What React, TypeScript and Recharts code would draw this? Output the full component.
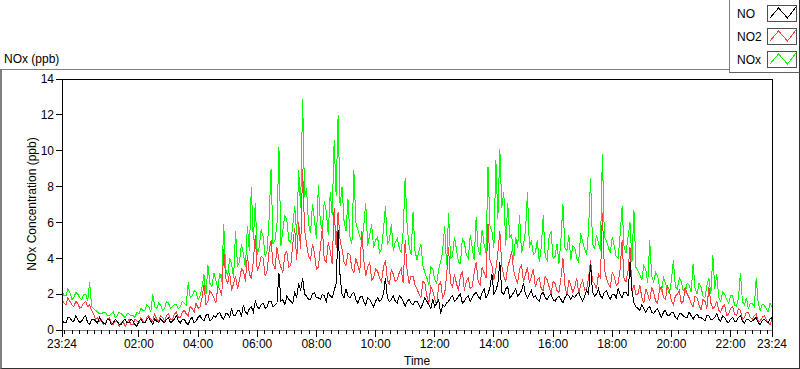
import { LineChart, Line, XAxis, YAxis, ReferenceLine } from "recharts"

// one sample every 4 minutes, first sample is 23:24
const STEP_MIN = 4
const START_MIN = 23 * 60 + 24

const no = [
  0.6, 0.4, 0.4, 0.7, 0.7, 0.5, 0.5, 0.8, 0.6, 0.4, 0.5, 0.7, 0.8, 0.4, 0.3, 0.6, 0.6, 0.5, 0.4, 0.7,
  0.5, 0.4, 0.3, 0.6, 0.6, 0.3, 0.4, 0.6, 0.5, 0.3, 0.3, 0.5, 0.6, 0.4, 0.4, 0.6, 0.5, 0.3, 0.2, 0.5,
  0.6, 0.4, 0.4, 0.6, 0.7, 0.5, 0.3, 0.6, 0.5, 0.4, 0.6, 0.5, 0.4, 0.6, 0.7, 0.4, 0.5, 0.6, 0.8, 0.5,
  0.4, 0.6, 0.6, 0.4, 0.3, 0.6, 0.7, 0.4, 0.5, 0.7, 0.8, 0.6, 0.5, 0.8, 0.9, 0.5, 0.6, 0.8, 0.7, 0.9,
  1.0, 0.7, 0.6, 0.9, 0.9, 0.7, 1.2, 0.8, 0.8, 1.1, 1.1, 0.8, 1.4, 1.0, 0.9, 1.2, 1.3, 1.0, 1.6, 1.3,
  1.2, 1.4, 1.5, 1.2, 1.3, 1.6, 1.6, 1.3, 1.4, 1.5, 3.2, 1.6, 1.7, 1.4, 1.9, 1.7, 1.6, 1.5, 2.1, 1.8,
  2.6, 2.2, 2.9, 2.0, 1.9, 1.7, 1.7, 2.0, 2.1, 1.8, 1.8, 1.7, 2.0, 1.9, 1.6, 2.1, 1.9, 1.8, 2.2, 2.6,
  5.6, 3.0, 2.0, 1.8, 2.3, 1.9, 1.8, 2.0, 2.1, 1.7, 1.5, 1.8, 1.9, 1.6, 1.4, 1.8, 1.7, 1.5, 1.3, 1.6,
  1.8, 1.6, 1.7, 2.0, 2.9, 1.8, 1.6, 1.7, 1.9, 1.6, 1.5, 1.9, 1.8, 1.6, 1.3, 1.6, 1.7, 1.5, 1.4, 1.6,
  1.6, 1.4, 1.2, 1.5, 1.8, 1.6, 1.4, 1.2, 1.7, 1.3, 1.5, 1.7, 0.9, 1.4, 1.3, 1.5, 1.6, 1.8, 1.9, 1.6,
  1.7, 1.9, 2.0, 1.5, 1.6, 1.8, 1.9, 1.6, 1.8, 2.0, 2.1, 1.9, 1.7, 2.1, 2.3, 1.8, 2.0, 2.4, 3.1, 2.0,
  2.2, 2.6, 3.8, 2.1, 2.0, 2.3, 2.4, 1.8, 1.9, 2.1, 2.3, 1.9, 2.0, 2.2, 2.6, 2.0, 1.8, 2.0, 2.2, 1.8,
  1.9, 1.7, 1.6, 2.0, 2.1, 1.8, 1.7, 1.9, 2.0, 1.7, 1.6, 1.8, 1.9, 1.7, 1.5, 1.8, 2.0, 1.9, 1.7, 1.9,
  1.8, 2.0, 2.1, 1.8, 1.6, 1.9, 2.2, 2.0, 3.7, 2.1, 1.9, 2.0, 2.3, 1.9, 1.8, 2.1, 2.2, 1.9, 1.7, 2.0,
  2.0, 1.8, 2.3, 2.0, 1.8, 2.1, 2.1, 1.9, 3.8, 2.2, 1.5, 1.3, 1.2, 1.1, 1.4, 1.2, 1.0, 1.2, 1.3, 1.0,
  0.9, 1.1, 1.2, 0.9, 0.7, 1.0, 1.1, 0.8, 0.8, 1.0, 1.0, 0.7, 0.6, 0.9, 0.9, 0.8, 0.7, 0.7, 1.0, 0.8,
  0.6, 0.8, 0.9, 0.7, 0.7, 0.6, 0.5, 0.8, 0.8, 0.6, 0.6, 0.7, 0.9, 0.6, 0.5, 0.8, 0.7, 0.5, 0.4, 0.6,
  0.7, 0.5, 0.5, 0.7, 0.8, 0.5, 0.4, 0.6, 0.6, 0.5, 0.5, 0.6, 0.7, 0.4, 0.3, 0.5, 0.6, 0.5, 0.4, 0.6,
  0.7,
]

const no2 = [
  1.7, 1.5, 1.4, 1.8, 1.6, 1.4, 1.3, 1.6, 1.5, 1.2, 1.3, 1.5, 1.6, 1.3, 1.4, 1.1, 0.9, 0.6, 0.7, 0.5,
  0.6, 0.3, 0.4, 0.6, 0.7, 0.4, 0.3, 0.5, 0.5, 0.2, 0.4, 0.5, 0.2, 0.4, 0.6, 0.3, 0.3, 0.6, 0.5, 0.4,
  0.7, 0.5, 0.4, 0.7, 0.8, 0.6, 0.5, 0.9, 0.6, 0.5, 0.8, 0.7, 0.5, 0.8, 0.9, 0.6, 0.6, 0.9, 1.0, 0.7,
  0.7, 1.0, 1.1, 0.9, 0.8, 1.3, 1.2, 1.0, 1.5, 1.2, 1.3, 1.8, 2.5, 1.4, 1.6, 2.2, 2.0, 1.8, 1.5, 2.4,
  2.3, 1.9, 4.5, 2.9, 2.6, 3.2, 2.2, 2.6, 3.0, 2.3, 2.8, 3.4, 3.3, 2.7, 4.2, 3.1, 2.9, 3.8, 5.3, 3.3,
  3.6, 4.1, 4.0, 3.0, 3.3, 4.4, 5.0, 3.7, 3.4, 4.6, 3.9, 3.5, 3.2, 4.2, 4.4, 3.5, 3.6, 4.8, 5.7, 3.9,
  6.0, 4.5, 9.0, 5.6, 4.8, 4.1, 3.9, 4.8, 4.3, 3.4, 3.5, 4.6, 5.7, 3.9, 3.8, 4.9, 4.4, 3.7, 6.8, 4.6,
  6.6, 5.0, 4.5, 3.8, 3.6, 4.3, 4.2, 3.4, 3.2, 4.0, 3.6, 3.2, 5.5, 3.9, 3.0, 3.5, 3.8, 2.8, 2.9, 3.4,
  3.3, 2.9, 2.7, 3.5, 3.9, 2.8, 2.5, 3.4, 3.1, 2.7, 2.8, 3.2, 3.4, 2.6, 5.0, 3.3, 2.6, 3.0, 3.0, 2.5,
  2.3, 2.0, 1.8, 2.7, 2.6, 1.9, 1.5, 2.4, 2.2, 1.7, 1.4, 2.5, 2.7, 1.8, 2.0, 3.0, 4.6, 2.6, 2.4, 3.1,
  2.6, 2.2, 3.0, 3.3, 2.2, 2.7, 2.9, 2.3, 2.4, 3.2, 3.8, 2.7, 2.5, 3.5, 3.2, 2.9, 5.9, 3.9, 3.6, 2.8,
  3.4, 4.3, 5.5, 3.6, 3.0, 2.7, 3.5, 3.9, 4.4, 3.3, 2.9, 2.6, 3.4, 3.6, 2.7, 3.1, 3.5, 2.6, 3.0, 3.4,
  2.4, 2.8, 2.9, 2.3, 2.2, 3.0, 2.8, 2.4, 2.0, 2.7, 2.6, 2.2, 2.1, 2.9, 4.0, 2.5, 1.9, 2.8, 2.5, 2.1,
  2.4, 2.9, 2.0, 2.5, 2.8, 2.2, 2.3, 2.9, 3.9, 2.7, 2.6, 2.3, 3.1, 2.9, 6.5, 3.4, 2.9, 2.6, 2.4, 3.2,
  3.0, 2.5, 2.6, 3.4, 5.0, 2.8, 2.7, 3.3, 4.6, 2.2, 2.5, 2.0, 2.0, 2.5, 1.8, 1.5, 2.3, 2.0, 1.6, 2.4,
  2.1, 1.6, 1.5, 2.3, 2.4, 1.8, 1.7, 2.5, 2.2, 1.6, 1.4, 1.9, 2.0, 2.2, 1.5, 1.6, 2.4, 2.0, 1.8, 1.5,
  1.3, 1.9, 1.8, 1.4, 1.1, 1.7, 1.6, 1.2, 2.4, 1.5, 1.2, 1.3, 1.6, 1.1, 1.0, 1.3, 1.4, 0.8, 0.9, 1.2,
  1.3, 0.9, 0.8, 1.2, 1.1, 0.6, 0.7, 1.0, 1.0, 0.7, 0.6, 0.8, 0.9, 0.5, 0.5, 0.7, 0.8, 0.6, 0.4, 0.3,
  0.6,
]

const nox = [
  2.2, 1.9, 1.9, 2.3, 2.1, 1.7, 1.8, 2.1, 2.0, 1.8, 1.7, 2.0, 2.0, 1.6, 2.7, 1.3, 1.2, 1.1, 1.0, 0.9,
  0.9, 1.0, 1.0, 0.8, 0.8, 0.9, 1.0, 0.7, 0.8, 1.0, 0.9, 0.8, 0.7, 0.9, 0.9, 0.8, 0.8, 0.7, 1.0, 0.9,
  1.2, 1.1, 1.1, 1.4, 1.3, 1.0, 2.0, 1.3, 1.2, 1.5, 1.4, 1.1, 1.2, 1.6, 1.5, 1.2, 1.3, 1.4, 1.4, 1.2,
  1.3, 1.6, 1.5, 1.4, 2.65, 1.8, 1.9, 2.2, 2.1, 1.7, 1.9, 2.4, 3.1, 2.0, 3.6, 2.6, 2.4, 3.2, 2.8, 2.3,
  3.2, 2.7, 5.9, 3.4, 3.0, 4.0, 3.7, 2.9, 5.5, 3.6, 3.8, 4.8, 4.2, 3.5, 5.8, 4.4, 8.0, 5.0, 7.1, 4.2,
  4.6, 5.6, 5.2, 4.1, 4.4, 6.2, 9.0, 4.8, 5.0, 5.9, 10.2, 4.7, 5.6, 6.4, 6.1, 5.0, 4.9, 5.8, 6.9, 5.3,
  8.9, 6.8, 12.9, 7.4, 7.9, 5.9, 5.4, 7.0, 6.2, 5.1, 8.1, 6.0, 5.6, 7.2, 6.6, 5.3, 7.7, 6.4, 10.6, 7.5,
  12.0, 6.9, 8.0, 6.1, 5.5, 7.3, 5.2, 4.8, 8.9, 6.0, 5.6, 5.2, 4.9, 5.8, 7.1, 4.7, 5.3, 5.9, 4.6, 5.0,
  5.2, 4.3, 4.5, 5.6, 6.9, 4.8, 5.0, 5.9, 4.4, 4.9, 5.1, 4.6, 4.3, 5.5, 8.5, 5.8, 4.7, 4.2, 6.6, 4.4,
  3.9, 4.4, 4.8, 3.6, 3.2, 2.9, 2.5, 3.5, 3.4, 2.8, 2.6, 3.4, 3.8, 4.4, 5.8, 3.6, 6.5, 4.0, 4.1, 5.2,
  4.5, 3.8, 3.7, 5.1, 4.9, 4.2, 4.0, 5.3, 4.6, 3.9, 6.3, 4.5, 4.2, 5.6, 4.8, 4.3, 9.1, 5.8, 5.5, 4.6,
  9.5, 6.2, 10.1, 6.8, 7.7, 4.7, 7.1, 5.2, 5.3, 3.9, 5.2, 4.6, 6.4, 4.3, 4.8, 5.5, 7.7, 4.6, 5.0, 4.2,
  4.3, 5.0, 3.8, 4.6, 6.4, 4.1, 3.9, 5.2, 5.5, 4.0, 4.1, 4.8, 3.7, 5.1, 7.0, 4.6, 4.4, 5.3, 3.9, 4.7,
  4.6, 4.0, 3.8, 5.4, 4.9, 4.5, 4.2, 5.6, 8.5, 4.8, 4.5, 5.3, 4.9, 4.4, 9.8, 5.2, 5.0, 4.6, 4.3, 5.2,
  4.7, 4.1, 4.0, 5.3, 6.9, 4.6, 4.3, 5.2, 6.0, 3.8, 6.7, 3.5, 3.3, 3.1, 2.8, 3.6, 3.4, 2.6, 5.0, 3.0,
  2.7, 3.2, 3.0, 2.4, 2.2, 2.9, 2.6, 2.3, 2.0, 2.8, 3.9, 2.4, 2.3, 2.9, 2.7, 2.2, 2.1, 2.6, 2.5, 2.1,
  3.7, 2.3, 2.0, 2.6, 2.4, 1.9, 1.8, 2.5, 2.9, 2.0, 4.2, 2.3, 3.1, 1.8, 1.6, 2.1, 2.0, 1.7, 1.5, 1.9,
  1.9, 1.4, 1.3, 1.8, 3.2, 1.6, 1.4, 1.8, 1.2, 1.5, 1.5, 1.3, 2.9, 1.5, 1.1, 1.4, 1.4, 1.2, 1.0, 1.5,
  1.3,
]

const majorTicks = [0, 156, 276, 396, 516, 636, 756, 876, 996, 1116, 1236, 1356, 1440]
const yTicks = [0, 2, 4, 6, 8, 10, 12, 14]

// small ticks every quarter hour (23:30 is 6 min after the start)
const minorTicks: number[] = []
for (let m = 6; m < 1440; m += 15) {
  if (!majorTicks.includes(m)) minorTicks.push(m)
}
const xTicks = [...majorTicks, ...minorTicks].sort((a, b) => a - b)

const data = nox.map((v, i) => ({ t: i * STEP_MIN, nox: v, no2: no2[i], no: no[i] }))

const legendItems = [
  { name: "NO", color: "#000000" },
  { name: "NO2", color: "#ff4040" },
  { name: "NOx", color: "#00ff00" },
]

const fmtTime = (m: number) => {
  const total = (START_MIN + m) % 1440
  const hh = Math.floor(total / 60)
  const mm = total % 60
  return `${String(hh).padStart(2, "0")}:${String(mm).padStart(2, "0")}`
}

function TimeTick(props: any) {
  const { x, y, payload } = props
  const major = majorTicks.includes(payload.value)
  return (
    <g>
      <line x1={x} x2={x} y1={y} y2={y + (major ? 7 : 4)} stroke="#000" />
      {major && (
        <text x={x} y={y + 18} textAnchor="middle" fontSize={12} fill="#000">
          {fmtTime(payload.value)}
        </text>
      )}
    </g>
  )
}

function Swatch({ color }: { color: string }) {
  return (
    <svg width={30} height={17} style={{ display: "block", border: "1px solid #505050", boxSizing: "border-box" }}>
      <polyline points="2,12 10.5,2 19.5,12 28,1" fill="none" stroke={color} strokeWidth={1} />
    </svg>
  )
}

export default function App() {
  return (
    <div
      style={{
        position: "relative",
        width: 800,
        height: 369,
        background: "#fff",
        fontFamily: '"Liberation Sans", Arial, sans-serif',
        shapeRendering: "crispEdges",
        overflow: "hidden",
      } as any}
    >
      <style>{"body{margin:0}"}</style>
      {/* panel frame */}
      <div
        style={{
          position: "absolute",
          left: 0,
          top: 69,
          width: 800,
          height: 300,
          boxSizing: "border-box",
          borderTop: "1px solid #808080",
          borderLeft: "2px solid #808080",
          borderRight: "1px solid #303030",
          borderBottom: "1px solid #303030",
        }}
      />
      <div style={{ position: "absolute", left: 4, top: 52, fontSize: 12, lineHeight: "14px", color: "#000" }}>
        NOx (ppb)
      </div>
      <div
        style={{
          position: "absolute",
          left: 32,
          top: 204,
          fontSize: 12,
          lineHeight: "14px",
          whiteSpace: "nowrap",
          color: "#000",
          transform: "translate(-50%, -50%) rotate(-90deg)",
        }}
      >
        NOx Concentration (ppb)
      </div>
      <div style={{ position: "absolute", left: 404, top: 354, fontSize: 12, lineHeight: "14px", color: "#000" }}>
        Time
      </div>

      <div style={{ position: "absolute", left: 0, top: 0 }}>
        <LineChart width={800} height={369} data={data} margin={{ top: 79, right: 28, bottom: 0, left: 0 }}>
          <XAxis
            dataKey="t"
            type="number"
            domain={[0, 1440]}
            ticks={xTicks}
            interval={0}
            height={39}
            tickSize={0}
            tickMargin={0}
            tickLine={false}
            axisLine={{ stroke: "#808080" }}
            tick={<TimeTick />}
          />
          <YAxis
            type="number"
            domain={[0, 14]}
            ticks={yTicks}
            interval={0}
            width={62}
            tickSize={6}
            tickMargin={2}
            axisLine={{ stroke: "#000" }}
            tickLine={{ stroke: "#000" }}
            tick={{ fill: "#000", fontSize: 12 }}
          />
          <ReferenceLine y={14} stroke="#000" />
          <ReferenceLine x={1440} stroke="#000" />
          <Line type="linear" dataKey="nox" stroke="#00ff00" strokeWidth={1} dot={false} isAnimationActive={false} />
          <Line type="linear" dataKey="no2" stroke="#ff4040" strokeWidth={1} dot={false} isAnimationActive={false} />
          <Line type="linear" dataKey="no" stroke="#000000" strokeWidth={1} dot={false} isAnimationActive={false} />
        </LineChart>
      </div>

      {/* legend */}
      <div
        style={{
          position: "absolute",
          left: 729,
          top: 0,
          width: 71,
          height: 73,
          boxSizing: "border-box",
          background: "#fff",
          borderLeft: "1px solid #808080",
          borderBottom: "1px solid #606060",
          borderRight: "1px solid #303030",
        }}
      >
        {legendItems.map((item, i) => (
          <div
            key={item.name}
            style={{ position: "absolute", left: 0, top: 5 + i * 23, width: 69, height: 17, display: "flex", alignItems: "center" }}
          >
            <span style={{ position: "absolute", left: 7, fontSize: 12, color: "#000" }}>{item.name}</span>
            <div style={{ position: "absolute", left: 37 }}>
              <Swatch color={item.color} />
            </div>
          </div>
        ))}
      </div>
    </div>
  )
}
